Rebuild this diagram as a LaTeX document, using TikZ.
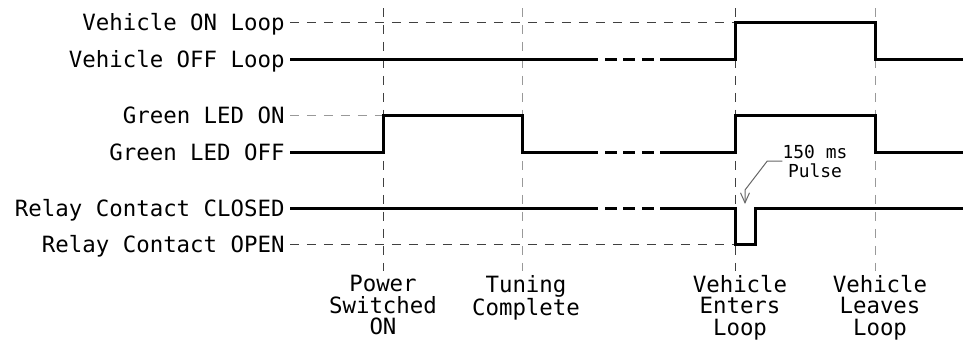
\documentclass[tikz,border=0pt]{standalone}
\usepackage{fontspec}
\setmonofont{DejaVu Sans Mono}
\usetikzlibrary{arrows.meta}

\begin{document}
\begin{tikzpicture}[x=0.02cm, y=-0.02cm,
  level/.style={anchor=east, inner sep=0pt, text height=0.32cm, text depth=0pt,
    font=\fontsize{12.75}{13.1}\selectfont},
  event/.style={anchor=north, inner sep=0pt, outer sep=0.08cm, align=center,
    font=\fontsize{12.75}{12.4}\selectfont},
  note/.style={inner sep=0pt, align=center, font=\fontsize{10.2}{10.8}\selectfont},
  signal/.style={line width=0.06cm},
  gap/.style={line width=0.06cm, dash pattern=on 0.24cm off 0.13cm},
  guide/.style={black!75, line width=0.02cm, dash pattern=on 0.18cm off 0.16cm},
  faint/.style={guide, black!40},
  pointer/.style={black!60, line width=0.02cm,
    -{Straight Barb[length=0.2cm,width=0.18cm]}}]
\useasboundingbox (0,0) rectangle (965,342);

\node (vehicleOn) [level] at (285,22) {\texttt{Vehicle ON Loop}};
\node (vehicleOff) [level] at (285,59) {\texttt{Vehicle OFF Loop}};
\node (greenOn) [level] at (285,115) {\texttt{Green LED ON}};
\node (greenOff) [level] at (285,152) {\texttt{Green LED OFF}};
\node (relayClosed) [level] at (285,208) {\texttt{Relay Contact CLOSED}};
\node (relayOpen) [level] at (285,244) {\texttt{Relay Contact OPEN}};

\coordinate (powerTop) at (383,8);
\coordinate (tuningTop) at (522,8);
\coordinate (entersTop) at (735,8);
\coordinate (leavesTop) at (875,8);
\coordinate (pulseEnd) at (755,0);
\coordinate (breakL) at (598,0);
\coordinate (dashL) at (605,0);
\coordinate (dashR) at (654,0);
\coordinate (breakR) at (660,0);
\coordinate (rightEnd) at (963,0);

\node (powerOn) [event] at (383,271)
{\texttt{Power}\\\texttt{Switched}\\\texttt{ON}};
\node (tuningDone) [event] at (526,271)
{\texttt{Tuning}\\\texttt{Complete}};
\node (vehicleEnters) [event] at (740,271)
{\texttt{Vehicle}\\\texttt{Enters}\\\texttt{Loop}};
\node (vehicleLeaves) [event] at (880,271)
{\texttt{Vehicle}\\\texttt{Leaves}\\\texttt{Loop}};

\draw[guide] (powerTop) -- (powerTop |- powerOn.north);
\draw[faint] (tuningTop) -- (tuningTop |- tuningDone.north);
\draw[guide] (entersTop) -- (entersTop |- vehicleEnters.north);
\draw[faint] (leavesTop) -- (leavesTop |- vehicleLeaves.north);

\draw[guide] ([xshift=0.1cm]vehicleOn.east) -- (vehicleOn -| entersTop);
\draw[faint] ([xshift=0.1cm]greenOn.east) -- (greenOn -| powerTop);
\draw[guide] ([xshift=0.1cm]relayOpen.east) -- (relayOpen -| entersTop);

\draw[signal] ([xshift=0.1cm]vehicleOff.east) -- (vehicleOff -| breakL);
\draw[gap] (vehicleOff -| dashL) -- (vehicleOff -| dashR);
\draw[signal] (vehicleOff -| breakR) -- (vehicleOff -| entersTop)
-- (vehicleOn -| entersTop) -- (vehicleOn -| leavesTop)
-- (vehicleOff -| leavesTop) -- (vehicleOff -| rightEnd);

\draw[signal] ([xshift=0.1cm]greenOff.east) -- (greenOff -| powerTop)
-- (greenOn -| powerTop) -- (greenOn -| tuningTop)
-- (greenOff -| tuningTop) -- (greenOff -| breakL);
\draw[gap] (greenOff -| dashL) -- (greenOff -| dashR);
\draw[signal] (greenOff -| breakR) -- (greenOff -| entersTop)
-- (greenOn -| entersTop) -- (greenOn -| leavesTop)
-- (greenOff -| leavesTop) -- (greenOff -| rightEnd);

\draw[signal] ([xshift=0.1cm]relayClosed.east) -- (relayClosed -| breakL);
\draw[gap] (relayClosed -| dashL) -- (relayClosed -| dashR);
\draw[signal] (relayClosed -| breakR) -- (relayClosed -| entersTop)
-- (relayOpen -| entersTop) -- (relayOpen -| pulseEnd)
-- (relayClosed -| pulseEnd) -- (relayClosed -| rightEnd);

\node (pulseNote) [note] at (815,161) {\texttt{150 ms}\\\texttt{Pulse}};
\coordinate (pulseTip) at (745,204);
\draw[pointer] (pulseNote.west) -- ++(-15,0) -- ([yshift=0.28cm]pulseTip)
-- (pulseTip);
\end{tikzpicture}
\end{document}
